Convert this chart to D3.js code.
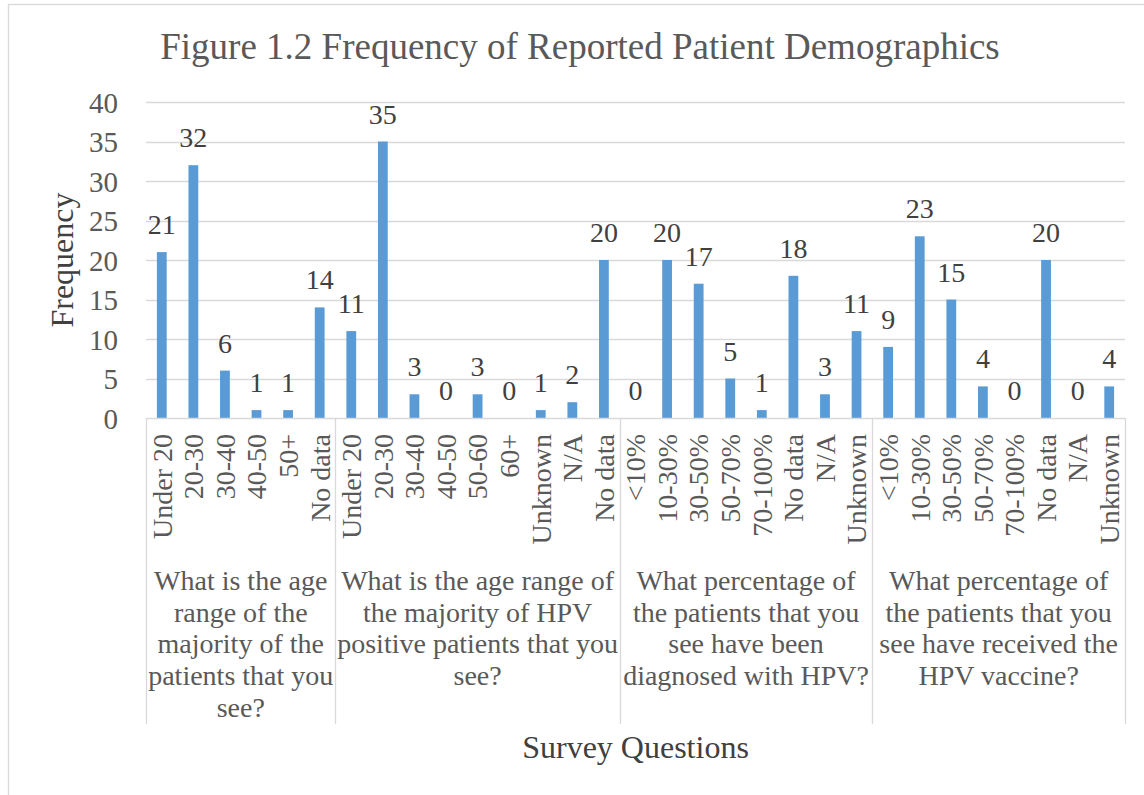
<!DOCTYPE html>
<html>
<head>
<meta charset="utf-8">
<script src="https://cdn.jsdelivr.net/npm/d3@7"></script>
<style>
  html, body { margin: 0; padding: 0; background: #fff; }
  svg { display: block; }
  text { font-family: "Liberation Serif", "Times New Roman", serif; }
</style>
</head>
<body>
<svg id="chart" width="1144" height="795"></svg>
<script>
// ---- Data ----
const groupNames = [
  ["What is the age", "range of the", "majority of the", "patients that you", "see?"],
  ["What is the age range of", "the majority of HPV", "positive patients that you", "see?"],
  ["What percentage of", "the patients that you", "see have been", "diagnosed with HPV?"],
  ["What percentage of", "the patients that you", "see have received the", "HPV vaccine?"]
];
const group1Categories = ["Under 20", "20-30", "30-40", "40-50", "50+", "No data"];
const group1Values     = [21, 32, 6, 1, 1, 14];
const group2Categories = ["Under 20", "20-30", "30-40", "40-50", "50-60", "60+", "Unknown", "N/A", "No data"];
const group2Values     = [11, 35, 3, 0, 3, 0, 1, 2, 20];
const group3Categories = ["<10%", "10-30%", "30-50%", "50-70%", "70-100%", "No data", "N/A", "Unknown"];
const group3Values     = [0, 20, 17, 5, 1, 18, 3, 11];
const group4Categories = ["<10%", "10-30%", "30-50%", "50-70%", "70-100%", "No data", "N/A", "Unknown"];
const group4Values     = [9, 23, 15, 4, 0, 20, 0, 4];
const yTicks = [0, 5, 10, 15, 20, 25, 30, 35, 40];

const titleText = "Figure 1.2 Frequency of Reported Patient Demographics";
const xTitle = "Survey Questions";
const yTitle = "Frequency";

(function () {
// ---- Build flat table ----
const groups = [
  { cats: group1Categories, vals: group1Values },
  { cats: group2Categories, vals: group2Values },
  { cats: group3Categories, vals: group3Values },
  { cats: group4Categories, vals: group4Values }
];
const rows = [];
groups.forEach((g, gi) => g.cats.forEach((c, i) => rows.push({ key: gi + "_" + i, cat: c, val: g.vals[i], group: gi })));

// ---- Layout ----
const svg = d3.select("#chart");
const pLeft = 146, pRight = 1125, pTop = 102, pBottom = 418;
const sepBottom = 724;

const x = d3.scaleBand()
  .domain(rows.map(r => r.key))
  .range([pLeft, pRight])
  .paddingInner(0.69)
  .paddingOuter(0.345);
const y = d3.scaleLinear().domain([0, 40]).range([pBottom, pTop]);

// outer chart border
svg.append("rect")
  .attr("x", 8.5).attr("y", 4.5).attr("width", 1150).attr("height", 800)
  .attr("fill", "none").attr("stroke", "#d9d9d9").attr("stroke-width", 1.3);

// title
svg.append("text")
  .attr("x", 580).attr("y", 59)
  .attr("text-anchor", "middle")
  .attr("font-size", 37).attr("fill", "#595959")
  .text(titleText);

// gridlines
svg.append("g").selectAll("line")
  .data(yTicks.filter(t => t > 0))
  .join("line")
  .attr("x1", pLeft).attr("x2", pRight)
  .attr("y1", d => Math.round(y(d)) + 0.5).attr("y2", d => Math.round(y(d)) + 0.5)
  .attr("stroke", "#d9d9d9").attr("stroke-width", 1.3);

// y axis tick labels
const yAxis = d3.axisLeft(y).tickValues(yTicks).tickSize(0).tickPadding(0);
const yg = svg.append("g").attr("transform", `translate(118,0)`).call(yAxis);
yg.select(".domain").remove();
yg.selectAll("text")
  .attr("font-family", "Liberation Serif, Times New Roman, serif")
  .attr("font-size", 29).attr("fill", "#595959")
  .attr("x", 0).attr("dy", "0.35em");

// bars
svg.append("g").selectAll("rect")
  .data(rows)
  .join("rect")
  .attr("x", d => x(d.key))
  .attr("width", x.bandwidth())
  .attr("y", d => y(d.val))
  .attr("height", d => y(0) - y(d.val))
  .attr("fill", "#5b9bd5");

// data labels
svg.append("g").selectAll("text")
  .data(rows)
  .join("text")
  .attr("x", d => x(d.key) + x.bandwidth() / 2)
  .attr("y", d => y(d.val) - 18)
  .attr("text-anchor", "middle")
  .attr("font-size", 28).attr("fill", "#404040")
  .text(d => d.val);

// category axis line
svg.append("line")
  .attr("x1", pLeft).attr("x2", pRight)
  .attr("y1", pBottom + 0.5).attr("y2", pBottom + 0.5)
  .attr("stroke", "#d9d9d9").attr("stroke-width", 1.3);

// group separators
const bounds = [pLeft];
let idx = 0;
groups.forEach(g => { idx += g.cats.length; bounds.push(pLeft + x.step() * idx); });
svg.append("g").selectAll("line")
  .data(bounds)
  .join("line")
  .attr("x1", d => Math.round(d) + 0.5).attr("x2", d => Math.round(d) + 0.5)
  .attr("y1", pBottom).attr("y2", sepBottom)
  .attr("stroke", "#d9d9d9").attr("stroke-width", 1.3);

// category labels (rotated)
svg.append("g").selectAll("text")
  .data(rows)
  .join("text")
  .attr("transform", d => `translate(${x(d.key) + x.bandwidth() / 2},434) rotate(-90)`)
  .attr("text-anchor", "end")
  .attr("dy", "0.35em")
  .attr("font-size", 28).attr("fill", "#595959")
  .text(d => d.cat);

// group labels
const gl = svg.append("g").selectAll("text")
  .data(groupNames)
  .join("text")
  .attr("text-anchor", "middle")
  .attr("font-size", 28).attr("fill", "#595959");
gl.each(function(lines, gi) {
  const cx = (bounds[gi] + bounds[gi + 1]) / 2;
  d3.select(this).selectAll("tspan")
    .data(lines)
    .join("tspan")
    .attr("x", cx)
    .attr("y", (d, i) => 590 + i * 31.7)
    .text(d => d);
});

// axis titles
svg.append("text")
  .attr("x", (pLeft + pRight) / 2).attr("y", 758)
  .attr("text-anchor", "middle")
  .attr("font-size", 32).attr("fill", "#404040")
  .text(xTitle);

svg.append("text")
  .attr("transform", `translate(62,${(pTop + pBottom) / 2}) rotate(-90)`)
  .attr("text-anchor", "middle")
  .attr("dy", "0.35em")
  .attr("font-size", 32).attr("fill", "#404040")
  .text(yTitle);
})();
</script>
</body>
</html>
